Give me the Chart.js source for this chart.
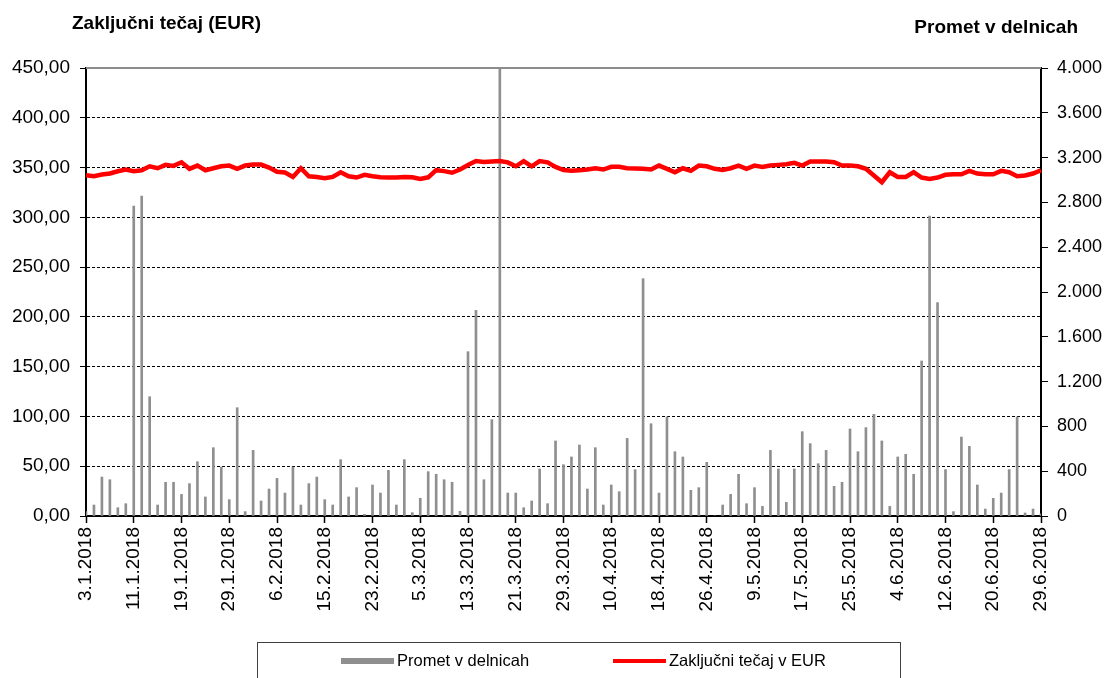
<!DOCTYPE html>
<html>
<head>
<meta charset="utf-8">
<script src="https://cdn.jsdelivr.net/npm/chart.js@4.4.1/dist/chart.umd.min.js"></script>
<style>
  html, body { margin: 0; padding: 0; background: #fff; }
  #wrap { width: 1107px; height: 678px; position: relative; }
</style>
</head>
<body>
<div id="wrap"><canvas id="chart"></canvas></div>
<script>
// trading days, Jan - Jun 2018
const tradingDays = [
  '3.1.2018','4.1.2018','5.1.2018','8.1.2018','9.1.2018','10.1.2018','11.1.2018','12.1.2018','15.1.2018','16.1.2018',
  '17.1.2018','18.1.2018','19.1.2018','22.1.2018','23.1.2018','24.1.2018','25.1.2018','26.1.2018','29.1.2018','30.1.2018',
  '31.1.2018','1.2.2018','2.2.2018','5.2.2018','6.2.2018','7.2.2018','9.2.2018','12.2.2018','13.2.2018','14.2.2018',
  '15.2.2018','16.2.2018','19.2.2018','20.2.2018','21.2.2018','22.2.2018','23.2.2018','26.2.2018','27.2.2018','28.2.2018',
  '1.3.2018','2.3.2018','5.3.2018','6.3.2018','7.3.2018','8.3.2018','9.3.2018','12.3.2018','13.3.2018','14.3.2018',
  '15.3.2018','16.3.2018','19.3.2018','20.3.2018','21.3.2018','22.3.2018','23.3.2018','26.3.2018','27.3.2018','28.3.2018',
  '29.3.2018','3.4.2018','4.4.2018','5.4.2018','6.4.2018','9.4.2018','10.4.2018','11.4.2018','12.4.2018','13.4.2018',
  '16.4.2018','17.4.2018','18.4.2018','19.4.2018','20.4.2018','23.4.2018','24.4.2018','25.4.2018','26.4.2018','30.4.2018',
  '3.5.2018','4.5.2018','7.5.2018','8.5.2018','9.5.2018','10.5.2018','11.5.2018','14.5.2018','15.5.2018','16.5.2018',
  '17.5.2018','18.5.2018','21.5.2018','22.5.2018','23.5.2018','24.5.2018','25.5.2018','28.5.2018','29.5.2018','30.5.2018',
  '31.5.2018','1.6.2018','4.6.2018','5.6.2018','6.6.2018','7.6.2018','8.6.2018','11.6.2018','12.6.2018','13.6.2018',
  '14.6.2018','15.6.2018','18.6.2018','19.6.2018','20.6.2018','21.6.2018','22.6.2018','26.6.2018','27.6.2018','28.6.2018',
  '29.6.2018'
];

// Promet v delnicah (right axis)
const volumeShares = [
  40, 98, 348, 324, 74, 110, 2768, 2857, 1065, 98,
  301, 301, 193, 289, 485, 170, 610, 437, 146, 967,
  39, 586, 134, 241, 336, 205, 437, 98, 289, 348,
  146, 98, 503, 170, 253, 15, 277, 205, 408, 98,
  503, 30, 158, 396, 372, 324, 301, 42, 1467, 1836,
  324, 860, 4000, 205, 205, 74, 134, 420, 110, 670,
  458, 527, 634, 241, 610, 98, 277, 217, 693, 414,
  2119, 824, 205, 884, 574, 527, 229, 253, 479, 0,
  98, 193, 372, 110, 253, 86, 586, 420, 122, 420,
  753, 646, 467, 586, 265, 301, 777, 574, 789, 908,
  670, 86, 527, 551, 372, 1384, 2678, 1905, 414, 39,
  705, 622, 277, 62, 158, 205, 414, 884, 27, 62,
  20
];

// Zakljucni tecaj v EUR (left axis)
const closePriceEur = [
  342.3, 341.3, 343.0, 344.0, 346.3, 348.0, 346.3, 347.3, 351.3, 349.3,
  352.7, 351.7, 355.3, 348.7, 352.0, 347.3, 349.3, 351.3, 352.0, 348.7,
  352.0, 353.0, 353.0, 350.0, 345.7, 345.0, 340.6, 349.3, 341.3, 340.6,
  339.3, 340.6, 345.3, 341.3, 340.0, 342.7, 341.3, 340.3, 340.0, 340.0,
  340.5, 340.2, 338.6, 340.2, 347.4, 346.4, 344.8, 348.0, 352.6, 356.5,
  355.6, 356.2, 356.5, 355.2, 351.3, 356.5, 351.3, 356.5, 355.2, 350.7,
  347.5, 346.7, 347.3, 348.0, 349.3, 348.0, 350.7, 350.7, 349.3, 349.0,
  348.7, 348.0, 352.0, 348.7, 345.3, 349.3, 346.7, 352.0, 351.3, 348.7,
  347.5, 349.3, 352.0, 348.7, 352.0, 350.7, 352.0, 352.7, 353.3, 354.7,
  352.0, 356.0, 356.0, 356.0, 355.3, 352.0, 352.0, 351.3, 348.7, 342.0,
  335.3, 345.3, 340.6, 340.6, 345.3, 340.0, 338.6, 340.0, 342.7, 343.3,
  343.3, 346.7, 344.0, 343.3, 343.3, 346.7, 345.3, 341.3, 342.0, 344.0,
  347.3
];

const labelEvery = 6;
const fontFamily = '"Liberation Sans", Arial, sans-serif';

function euroFmt(v) {
  return Number(v).toFixed(2).replace('.', ',');
}
function sharesFmt(v) {
  return String(v).replace(/\B(?=(\d{3})+(?!\d))/g, '.');
}

// titles above the axes, plot top border and the boxed legend
const decorations = {
  id: 'decorations',
  afterDraw(chart) {
    const { ctx, chartArea: a } = chart;
    ctx.save();

    ctx.strokeStyle = '#8c8c8c';
    ctx.lineWidth = 2;
    ctx.beginPath();
    ctx.moveTo(a.left, a.top);
    ctx.lineTo(a.right, a.top);
    ctx.stroke();

    ctx.fillStyle = '#000';
    ctx.font = 'bold 19px ' + fontFamily;
    ctx.textBaseline = 'middle';
    ctx.textAlign = 'left';
    ctx.fillText('Zaključni tečaj (EUR)', 72, 24);
    ctx.textAlign = 'right';
    ctx.fillText('Promet v delnicah', 1078, 28);

    // legend box
    ctx.strokeStyle = '#404040';
    ctx.lineWidth = 1;
    ctx.strokeRect(257.5, 642.5, 643, 60);

    const swatchX = [341, 613];
    const legendY = 661;
    ctx.font = '16.5px ' + fontFamily;
    ctx.textAlign = 'left';
    chart.data.datasets.forEach((ds, k) => {
      const x = swatchX[k];
      if (ds.type === 'line') {
        ctx.strokeStyle = ds.borderColor;
        ctx.lineWidth = 4;
        ctx.beginPath();
        ctx.moveTo(x, legendY);
        ctx.lineTo(x + 53, legendY);
        ctx.stroke();
      } else {
        ctx.fillStyle = ds.backgroundColor;
        ctx.fillRect(x, legendY - 3, 53, 6);
      }
      ctx.fillStyle = '#000';
      ctx.fillText(ds.label, x + 56, legendY);
    });

    ctx.restore();
  }
};

new Chart(document.getElementById('chart').getContext('2d'), {
  type: 'bar',
  data: {
    labels: tradingDays,
    datasets: [{
      type: 'bar',
      label: 'Promet v delnicah',
      data: volumeShares,
      yAxisID: 'y1',
      backgroundColor: '#8f8f8f',
      barThickness: 2,
      order: 1
    }, {
      type: 'line',
      label: 'Zaključni tečaj v EUR',
      data: closePriceEur,
      yAxisID: 'y',
      borderColor: '#ff0000',
      borderWidth: 4.5,
      pointRadius: 0,
      tension: 0,
      order: 0
    }]
  },
  options: {
    responsive: true,
    maintainAspectRatio: false,
    animation: false,
    layout: { padding: { top: 68, bottom: 0, left: 0, right: 0 } },
    plugins: {
      legend: { display: false },
      tooltip: { enabled: false }
    },
    scales: {
      x: {
        offset: false,
        grid: {
          offset: false,
          drawOnChartArea: false,
          tickLength: 7,
          tickWidth: 1.5,
          tickColor: c => (c.index % labelEvery === 0 ? '#000' : 'rgba(0,0,0,0)')
        },
        border: { color: '#000', width: 2 },
        ticks: {
          autoSkip: false,
          maxRotation: 90,
          minRotation: 90,
          padding: 4,
          color: '#000',
          font: { size: 19, family: fontFamily },
          callback(v, i) { return i % labelEvery === 0 ? this.getLabelForValue(v) : ''; }
        },
        afterFit(s) { s.height = 162; }
      },
      y: {
        position: 'left',
        min: 0,
        max: 450,
        ticks: { stepSize: 50, padding: 10, color: '#000', font: { size: 19, family: fontFamily }, callback: euroFmt },
        grid: {
          color: c => (c.tick && c.tick.value === 450 ? 'rgba(0,0,0,0)' : '#000'),
          lineWidth: 1,
          tickColor: '#000',
          tickLength: 6,
          tickBorderDash: []
        },
        border: { color: '#000', width: 2, dash: [3, 2] },
        afterFit(s) { s.width = 86; }
      },
      y1: {
        position: 'right',
        min: 0,
        max: 4000,
        ticks: { stepSize: 400, padding: 9, color: '#000', font: { size: 18, family: fontFamily }, callback: sharesFmt },
        grid: { drawOnChartArea: false, tickLength: 7, tickColor: '#000', tickBorderDash: [] },
        border: { color: '#000', width: 2 },
        afterFit(s) { s.width = 66; }
      }
    }
  },
  plugins: [decorations]
});
</script>
</body>
</html>
